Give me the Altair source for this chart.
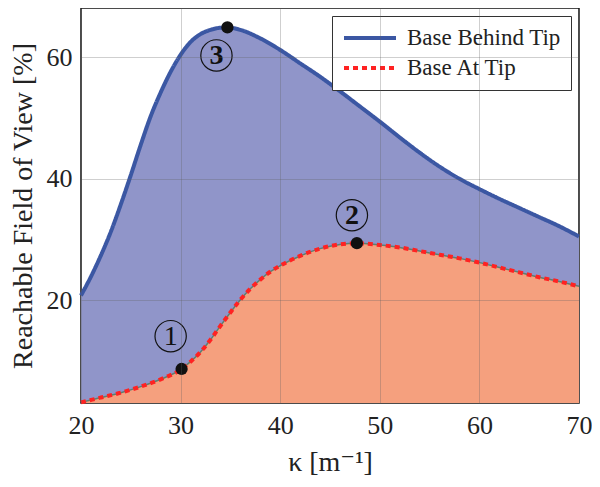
import altair as alt
import pandas as pd

kappa_behind = [20, 21, 22, 23, 24, 25, 26, 27, 28, 29, 30, 31, 32, 33, 34, 34.7,
                36, 38, 40, 42, 44, 46, 48, 50, 52, 54, 56, 58, 60, 62, 64, 66, 68, 70]
behind_tip = [20.8, 23.9, 27.4, 31.3, 35.8, 40.6, 45.6, 50.3, 54.2, 57.6, 60.4, 62.5,
              63.8, 64.5, 64.85, 64.9, 64.5, 63.1, 61.2, 59.0, 56.8, 54.4, 51.9, 49.4,
              46.8, 44.3, 42.0, 40.0, 38.3, 36.7, 35.2, 33.7, 32.2, 30.5]
kappa_at = [20, 22, 24, 26, 28, 30, 31, 32, 33, 34, 35, 36, 37, 38, 39, 40, 42, 44, 46,
            47.7, 50, 52, 54, 56, 58, 60, 62, 64, 66, 68, 70]
at_tip = [3.2, 4.0, 4.8, 5.8, 7.0, 8.6, 9.9, 11.5, 13.5, 15.8, 18.0, 20.1, 21.9, 23.4,
          24.7, 25.7, 27.3, 28.5, 29.2, 29.4, 29.1, 28.7, 28.1, 27.5, 26.9, 26.2, 25.4,
          24.6, 23.8, 23.1, 22.3]
series_names = ["Base Behind Tip", "Base At Tip"]

point_k = [30.1, 47.7, 34.7]
point_v = [8.7, 29.4, 64.9]
label_k = [29.0, 47.2, 33.6]
label_v = [14.1, 34.0, 60.3]
label_txt = ["1", "2", "3"]
label_bold = [False, True, True]

FONT = "Liberation Serif, Times New Roman, DejaVu Serif, serif"
BLUE_FILL = "#9095c9"
ORANGE_FILL = "#f5a07e"
BLUE_LINE = "#3b57a3"
RED_LINE = "#ff2222"

df_b = pd.DataFrame({"kappa": kappa_behind, "value": behind_tip, "series": series_names[0]})
df_a = pd.DataFrame({"kappa": kappa_at, "value": at_tip, "series": series_names[1]})
long = pd.concat([df_b, df_a])
pts = pd.DataFrame({"kappa": point_k, "value": point_v})
labs = pd.DataFrame({"kappa": label_k, "value": label_v, "txt": label_txt, "bold": label_bold})

xs = alt.Scale(domain=[20, 70], nice=False)
ys = alt.Scale(domain=[3.1, 68.1], nice=False)

X = alt.X("kappa:Q", scale=xs)
Y = alt.Y("value:Q", scale=ys)

area_blue = alt.Chart(df_b).mark_area(color=BLUE_FILL, clip=True, interpolate="monotone").encode(
    x=alt.X("kappa:Q", scale=xs, title="κ [m⁻¹]",
            axis=alt.Axis(values=[20, 30, 40, 50, 60, 70], labelPadding=9, labelFlush=False,
                          titlePadding=10, zindex=1)),
    y=alt.Y("value:Q", scale=ys, title="Reachable Field of View [%]",
            axis=alt.Axis(values=[20, 40, 60], labelPadding=9, labelFlush=False,
                          titlePadding=9, zindex=1)),
)
area_orange = alt.Chart(df_a).mark_area(color=ORANGE_FILL, clip=True, interpolate="monotone").encode(
    x=X, y=Y)
under_line = alt.Chart(df_a).mark_line(color="#5f7f6f", strokeWidth=1.5, interpolate="monotone").encode(
    x=X, y=Y)
lines = alt.Chart(long).mark_line(strokeWidth=4, interpolate="monotone").encode(
    x=X, y=Y,
    color=alt.Color("series:N", scale=alt.Scale(domain=series_names, range=[BLUE_LINE, RED_LINE]),
                    legend=alt.Legend(title=None)),
    strokeDash=alt.StrokeDash("series:N", scale=alt.Scale(domain=series_names, range=[[1, 0], [5, 4]]),
                              legend=alt.Legend(title=None)),
)
dots = alt.Chart(pts).mark_point(shape="circle", filled=True, color="#111111", size=150, opacity=1).encode(
    x=X, y=Y)
rings = alt.Chart(labs).mark_point(shape="circle", filled=False, color="#111111", size=980,
                                   strokeWidth=1.2, opacity=1).encode(x=X, y=Y)
txt_reg = alt.Chart(labs).transform_filter("!datum.bold").mark_text(
    font=FONT, fontSize=28, color="#111111", baseline="middle", dy=1).encode(
    x=X, y=Y, text="txt:N")
txt_bold = alt.Chart(labs).transform_filter("datum.bold").mark_text(
    font=FONT, fontSize=28, fontWeight="bold", color="#111111", baseline="middle", dy=1).encode(
    x=X, y=Y, text="txt:N")

chart = alt.layer(area_blue, area_orange, under_line, lines, dots, rings, txt_reg, txt_bold).properties(
    width=498, height=395,
    autosize=alt.AutoSizeParams(type="none"),
    padding={"left": 73, "top": 0, "right": 13, "bottom": 76},
).configure_view(
    stroke="#111111", strokeWidth=1.5
).configure_axis(
    labelFont=FONT, labelFontSize=26, labelColor="#222222",
    titleFont=FONT, titleFontSize=28, titleFontWeight="normal", titleColor="#222222",
    gridColor="#606060", gridOpacity=0.3, gridWidth=1,
    ticks=False, domain=False,
).configure_legend(
    orient="top-right", offset=8, fillColor="white", strokeColor="#333333",
    padding=10, labelFont=FONT, labelFontSize=23, labelColor="#222222",
    symbolType="stroke", symbolStrokeWidth=4, symbolSize=2700, clipHeight=24,
    rowPadding=6, labelOffset=9, cornerRadius=0,
)

chart.save("out.html", embed_options={"renderer": "svg", "actions": False})
